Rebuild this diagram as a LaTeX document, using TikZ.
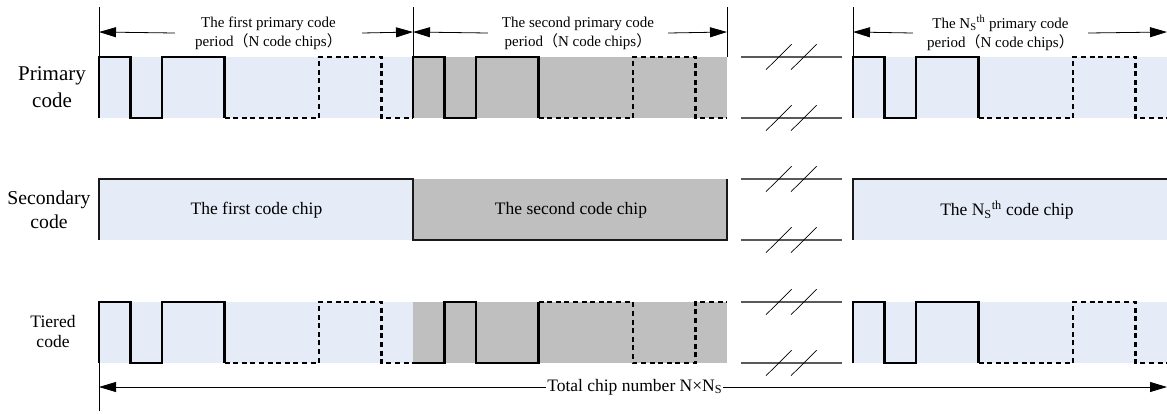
\documentclass[tikz,border=0pt]{standalone}
\usepackage{fontspec}
\setmainfont{Liberation Serif}
\newfontfamily\cjk{Noto Sans CJK SC}
\usetikzlibrary{arrows.meta}

\definecolor{chipblue}{RGB}{230,236,247}
\definecolor{chipgrey}{RGB}{191,191,191}

% fullwidth brackets
\newcommand\lpar{{\cjk （}}
\newcommand\rpar{{\cjk ）}}

% one primary code period: #1 start x, #2 first level, #3 second level, #4 level before the period
\newcommand\codewave[4]{%
  \draw[wave] (#1,#4) -- (#1,#2) -- (#1+31.4,#2) -- (#1+31.4,#3) -- (#1+62.8,#3)
    -- (#1+62.8,#2) -- (#1+125.6,#2) -- (#1+125.6,#3);
  \draw[dwave] (#1+125.6,#3) -- (#1+219.8,#3) -- (#1+219.8,#2) -- (#1+282.6,#2)
    -- (#1+282.6,#3) -- (#1+314,#3);
}
% broken axis mark: two parallel lines with double slashes
\newcommand\gapmark[2]{%
  \foreach \yy in {#1,#2}{
    \draw[gapline] (741,\yy) -- (842,\yy);
    \draw[slash] (766,\yy+12.7) -- (791.6,\yy-12.7);
    \draw[slash] (791,\yy+12.7) -- (816.6,\yy-12.7);
  }
}

\begin{document}
\begin{tikzpicture}[x=1pt,y=-1pt,
  wave/.style={line width=2.6pt},
  dwave/.style={line width=2.6pt, dash pattern=on 5pt off 3.6pt},
  guide/.style={line width=0.8pt},
  gapline/.style={line width=1.1pt, black!65},
  slash/.style={line width=0.7pt},
  dimarrow/.style={line width=0.8pt, -{Triangle[length=17pt,width=10pt]}},
  toplabel/.style={align=center, inner sep=0pt, font=\fontsize{15}{19}\selectfont},
  rowlabel/.style={align=center, inner sep=0pt},
  chiplabel/.style={inner sep=0pt, font=\fontsize{17.5}{20}\selectfont},
  secwave/.style={line width=1.8pt, black!90}]
\useasboundingbox (0,0) rectangle (1167,413);

% ---------- backgrounds ----------
\fill[chipblue] (99,57) rectangle (413,118);
\fill[chipgrey] (413,57) rectangle (727,118);
\fill[chipblue] (853,57) rectangle (1167,118);
\fill[chipblue] (99,179) rectangle (413,240);
\fill[chipgrey] (413,179) rectangle (727,240);
\fill[chipblue] (853,179) rectangle (1167,240);
\fill[chipblue] (99,302) rectangle (413,363);
\fill[chipgrey] (413,302) rectangle (727,363);
\fill[chipblue] (853,302) rectangle (1167,363);

% ---------- row labels ----------
\node[rowlabel, font=\fontsize{21}{27}\selectfont] (lp) at (52,87) {Primary\\code};
\node[rowlabel, font=\fontsize{19.7}{24}\selectfont] (ls) at (49,210) {Secondary\\code};
\node[rowlabel, font=\fontsize{17.5}{20}\selectfont] (lt) at (53,332) {Tiered\\code};

% ---------- period boundaries ----------
\draw[guide] (99,7) -- (99,57);
\draw[guide] (413,7) -- (413,57);
\draw[guide] (727,7) -- (727,57);
\draw[guide] (853,7) -- (853,57);
\draw[guide] (99,363) -- (99,411);

\coordinate (b0) at (99,32);
\coordinate (b1) at (413,32);
\coordinate (b2) at (727,32);
\coordinate (b3) at (853,32);
\coordinate (b4) at (1167,32);

\node[toplabel, minimum width=187pt] (t1) at (268.5,33)
  {The first primary code\\period\lpar N code chips\rpar};
\node[toplabel, minimum width=180pt] (t2) at (578,33)
  {The second primary code\\period\lpar N code chips\rpar};
\node[toplabel, minimum width=175pt] (t3) at (1000.5,33)
  {The N\textsubscript{S}\textsuperscript{th} primary code\\period\lpar N code chips\rpar};

\draw[dimarrow] (t1.west) -- (b0);
\draw[dimarrow] (t1.east) -- (b1);
\draw[dimarrow] (t2.west) -- (b1);
\draw[dimarrow] (t2.east) -- (b2);
\draw[dimarrow] (t3.west) -- (b3);
\draw[dimarrow] (t3.east) -- (b4);

% ---------- primary code ----------
\codewave{99}{57}{118}{118}
\codewave{413}{57}{118}{118}
\codewave{853}{57}{118}{118}

% ---------- secondary code ----------
\draw[secwave] (99,240) -- (99,179) -- (413,179) -- (413,240) -- (727,240) -- (727,179);
\draw[secwave] (853,240) -- (853,179) -- (1167,179);
\node[chiplabel] (s1) at (256.5,210) {The first code chip};
\node[chiplabel] (s2) at (571,210) {The second code chip};
\node[chiplabel] (s3) at (1007,210) {The N\textsubscript{S}\textsuperscript{th} code chip};

% ---------- tiered code ----------
\codewave{99}{302}{363}{363}
\codewave{413}{363}{302}{363}
\codewave{853}{302}{363}{363}

% ---------- breaks ----------
\gapmark{57}{118}
\gapmark{179}{240}
\gapmark{302}{363}

% ---------- total length ----------
\coordinate (e0) at (99,387);
\coordinate (e1) at (1167,387);
\node[chiplabel, fill=white, inner xsep=1pt, inner ysep=2pt] (tot) at (634.7,387)
  {Total chip number N×N\textsubscript{S}};
\draw[dimarrow] (tot.west) -- (e0);
\draw[dimarrow] (tot.east) -- (e1);
\end{tikzpicture}
\end{document}
